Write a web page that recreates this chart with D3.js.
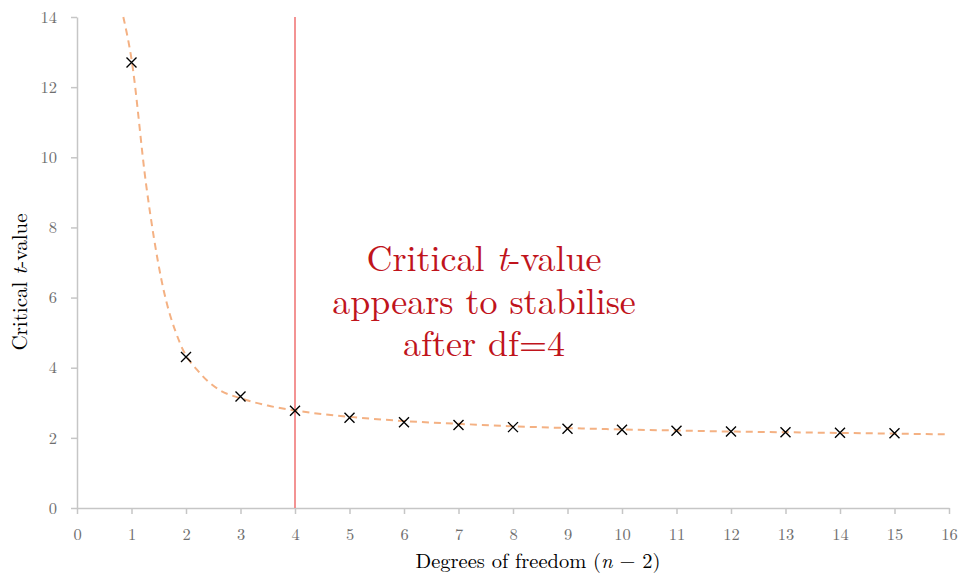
<!DOCTYPE html>
<html>
<head>
<meta charset="utf-8">
<script src="https://cdn.jsdelivr.net/npm/d3@7"></script>
<style>
  body { margin: 0; background: #fff; }
  svg { font-family: "Latin Modern Roman", "CMU Serif", "Liberation Serif", serif; }
</style>
</head>
<body>
<svg id="chart" width="963" height="574"></svg>
<script>
// critical t-values (two-tailed, 5%) by degrees of freedom
const df = [1, 2, 3, 4, 5, 6, 7, 8, 9, 10, 11, 12, 13, 14, 15];
const tCrit = [12.706, 4.303, 3.182, 2.776, 2.571, 2.447, 2.365, 2.306, 2.262, 2.228, 2.201, 2.179, 2.160, 2.145, 2.131];

// dashed trend curve
const trendX = [0.85, 1, 1.27, 1.55, 1.89, 2.26, 2.62, 3, 3.5, 4, 5, 6, 7, 8, 9, 10, 11, 12, 13, 14, 15, 16];
const trendY = [14, 12.8, 9.2, 6.5, 4.7, 3.84, 3.36, 3.13, 2.92, 2.78, 2.6, 2.48, 2.4, 2.33, 2.28, 2.24, 2.21, 2.18, 2.16, 2.14, 2.12, 2.1];

const xTicks = d3.range(0, 17);
const yTicks = [0, 2, 4, 6, 8, 10, 12, 14];
const cutoffDf = 4;
const noteLines = ["Critical |t|-value", "appears to stabilise", "after df=4"];

const svg = d3.select("#chart");
const margin = { left: 77, right: 14, top: 17, bottom: 66 };
const width = 963, height = 574;

const x = d3.scaleLinear().domain([0, 16]).range([margin.left, width - margin.right]);
const y = d3.scaleLinear().domain([0, 14]).range([height - margin.bottom, margin.top]);

const axisColor = "#c6c6c6";
const labelColor = "#6e6e6e";

// x axis
const xAxis = svg.append("g")
    .attr("transform", `translate(0,${y(0)})`)
    .call(d3.axisBottom(x).tickValues(xTicks).tickSize(6).tickPadding(14).tickSizeOuter(0))
    .attr("font-family", null).attr("font-size", null);
xAxis.select(".domain").attr("stroke", axisColor).attr("stroke-width", 1.5);
xAxis.selectAll(".tick line").attr("stroke", axisColor).attr("stroke-width", 1.5);
xAxis.selectAll(".tick text").attr("fill", labelColor).style("font-size", "16.5px");

// y axis
const yAxis = svg.append("g")
    .attr("transform", `translate(${x(0)},0)`)
    .call(d3.axisLeft(y).tickValues(yTicks).tickSize(6).tickPadding(14).tickSizeOuter(0))
    .attr("font-family", null).attr("font-size", null);
yAxis.select(".domain").attr("stroke", axisColor).attr("stroke-width", 1.5);
yAxis.selectAll(".tick line").attr("stroke", axisColor).attr("stroke-width", 1.5);
yAxis.selectAll(".tick text").attr("fill", labelColor).style("font-size", "16.5px");

// vertical reference line at df = 4
svg.append("line")
    .attr("x1", x(cutoffDf)).attr("x2", x(cutoffDf))
    .attr("y1", y(14)).attr("y2", y(0))
    .attr("stroke", "#f07878")
    .attr("stroke-width", 1.6);

// trend curve
const trend = trendX.map((v, i) => [v, trendY[i]]);
svg.append("path")
    .datum(trend)
    .attr("fill", "none")
    .attr("stroke", "#f4b183")
    .attr("stroke-width", 2)
    .attr("stroke-dasharray", "7,5")
    .attr("d", d3.line().x(d => x(d[0])).y(d => y(d[1])).curve(d3.curveMonotoneX));

// markers
const pts = df.map((v, i) => ({ x: v, y: tCrit[i] }));
const mk = svg.append("g").selectAll("g")
    .data(pts)
    .enter().append("g")
    .attr("transform", d => `translate(${x(d.x)},${y(d.y)})`);
mk.append("path")
    .attr("d", "M-5,-5L5,5M-5,5L5,-5")
    .attr("stroke", "#000")
    .attr("stroke-width", 1.4);

// annotation, one text per line
noteLines.forEach((line, i) => {
    const t = svg.append("text")
        .attr("x", 484)
        .attr("y", 271 + i * 42.5)
        .attr("text-anchor", "middle")
        .attr("fill", "#c0141c")
        .style("font-size", "36px");
    line.split("|").forEach((p, j) => {
        if (!p) return;
        t.append("tspan").style("font-style", j === 1 ? "italic" : null).text(p);
    });
});

// axis titles
const xt = svg.append("text")
    .attr("x", 538)
    .attr("y", 568)
    .attr("text-anchor", "middle")
    .attr("fill", "#000")
    .style("font-size", "20.5px");
xt.append("tspan").text("Degrees of freedom (");
xt.append("tspan").style("font-style", "italic").text("n");
xt.append("tspan").text(" \u2212 2)");

const yt = svg.append("text")
    .attr("transform", "translate(27,282) rotate(-90)")
    .attr("text-anchor", "middle")
    .attr("fill", "#000")
    .style("font-size", "21px");
yt.append("tspan").text("Critical ");
yt.append("tspan").style("font-style", "italic").text("t");
yt.append("tspan").text("-value");
</script>
</body>
</html>
